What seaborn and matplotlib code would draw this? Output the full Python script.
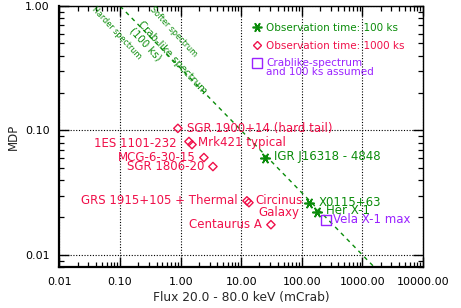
import matplotlib
matplotlib.use("Agg")
import matplotlib.pyplot as plt
from matplotlib.lines import Line2D
from matplotlib.ticker import LogLocator, FuncFormatter, NullFormatter
import pandas as pd
import seaborn as sns

# sources observed for 1000 ks (red diamonds)
long_names = ["SGR 1900+14 (hard tail)", "1ES 1101-232", "Mrk421 typical", "MCG-6-30-15",
              "SGR 1806-20", "GRS 1915+105 + Thermal", "Circinus\nGalaxy", "Centaurus A"]
long_flux = [0.90, 1.37, 1.54, 2.42, 3.41, 12.4, 13.4, 30.9]
long_mdp = [0.104, 0.0815, 0.077, 0.0606, 0.0513, 0.0272, 0.0263, 0.0175]

# sources observed for 100 ks (green asterisks)
short_names = ["IGR J16318 - 4848", "X0115+63", "Her X-1"]
short_flux = [24.6, 131, 178]
short_mdp = [0.0606, 0.0263, 0.0222]

# crab-like spectrum, 100 ks (purple square)
crab_names = ["Vela X-1 max"]
crab_src_flux = [250]
crab_src_mdp = [0.0191]

# crab-like spectrum line (100 ks)
crab_flux = [0.1, 2000]
crab_mdp = [1.0, 0.00707]

x_ticks = [0.01, 0.1, 1, 10, 100, 1000, 10000]
y_ticks = [0.01, 0.1, 1.0]

RED = "#f0104a"
GREEN = "#0a8c0a"
PURPLE = "#9a22ff"

sns.set_style("ticks")
plt.rcParams["font.family"] = ["DejaVu Sans"]

fig, ax = plt.subplots(figsize=(4.61, 3.08), dpi=100)
fig.subplots_adjust(left=0.129, right=0.9176, top=0.9805, bottom=0.1331)

sns.lineplot(x=crab_flux, y=crab_mdp, color=GREEN, linewidth=1.0,
             linestyle=(0, (3, 3)), ax=ax)

df_long = pd.DataFrame({"flux": long_flux, "mdp": long_mdp, "name": long_names})
df_short = pd.DataFrame({"flux": short_flux, "mdp": short_mdp, "name": short_names})
df_crab = pd.DataFrame({"flux": crab_src_flux, "mdp": crab_src_mdp, "name": crab_names})

sns.scatterplot(data=df_long, x="flux", y="mdp", marker="D", s=18,
                facecolor="none", edgecolor=RED, linewidth=1.0, ax=ax, zorder=5)
sns.scatterplot(data=df_short, x="flux", y="mdp", marker=(6, 2, 90), s=45,
                color=GREEN, edgecolor=GREEN, linewidth=1.2, ax=ax, zorder=5)
sns.scatterplot(data=df_crab, x="flux", y="mdp", marker="s", s=45,
                facecolor="none", edgecolor=PURPLE, linewidth=1.0, ax=ax, zorder=5)

ax.set_xscale("log")
ax.set_yscale("log")

fs = 8.5
# label offsets in pixels (dx, dy, ha)
long_off = [(9, 0, "left"), (-12, -2, "right"), (6, 2, "left"), (-8, 0, "right"),
            (-9, 0, "right"), (-9, 0, "right"), (30, -4, "center"), (-9, 0, "right")]
for (n, xv, yv), (dx, dy, ha) in zip(zip(long_names, long_flux, long_mdp), long_off):
    ax.annotate(n, (xv, yv), xytext=(dx, dy), textcoords="offset pixels",
                ha=ha, va="center", color=RED, fontsize=fs,
                multialignment="center", linespacing=0.9)

short_off = [(9, 1), (10, 0), (9, 1)]
for (n, xv, yv), (dx, dy) in zip(zip(short_names, short_flux, short_mdp), short_off):
    ax.annotate(n, (xv, yv), xytext=(dx, dy), textcoords="offset pixels",
                ha="left", va="center", color=GREEN, fontsize=fs)

for n, xv, yv in zip(crab_names, crab_src_flux, crab_src_mdp):
    ax.annotate(n, (xv, yv), xytext=(7, 0), textcoords="offset pixels",
                ha="left", va="center", color=PURPLE, fontsize=fs)

# spectrum annotations along the crab line
rot = -47
ax.text(0.089, 0.607, "Harder spectrum", rotation=rot, rotation_mode="anchor",
        ha="center", va="center", color=GREEN, fontsize=5.8)
ax.text(0.775, 0.618, "Softer spectrum", rotation=rot, rotation_mode="anchor",
        ha="center", va="center", color=GREEN, fontsize=5.8)
ax.text(0.72, 0.382, "Crab-like spectrum", rotation=rot, rotation_mode="anchor",
        ha="center", va="center", color=GREEN, fontsize=7.3)
ax.text(0.267, 0.495, "(100 ks)", rotation=rot, rotation_mode="anchor",
        ha="center", va="center", color=GREEN, fontsize=7.3)

# legend
lfs = 7.5
handles = [
    Line2D([], [], ls="none", marker=(6, 2, 90), ms=7, color=GREEN, mew=1.2),
    Line2D([], [], ls="none", marker="D", ms=4.5, mfc="none", mec=RED, mew=1.0),
    Line2D([], [], ls="none", marker="s", ms=7, mfc="none", mec=PURPLE, mew=1.0),
]
labels = ["Observation time: 100 ks", "Observation time: 1000 ks", "Crablike-spectrum"]
leg = ax.legend(handles, labels, loc="upper left", bbox_to_anchor=(0.52, 0.952),
                frameon=False, fontsize=lfs, handlelength=0.8, handletextpad=0.5,
                labelspacing=0.75, borderaxespad=0, labelcolor=[GREEN, RED, PURPLE])
ax.annotate("and 100 ks assumed", xy=(0, 0), xycoords=leg.get_texts()[2],
            xytext=(0, 1), textcoords="offset pixels", ha="left", va="top",
            color=PURPLE, fontsize=lfs, zorder=10)

# ticks and grid
for axis in (ax.xaxis, ax.yaxis):
    axis.set_major_locator(LogLocator(base=10, numticks=20))
    axis.set_minor_locator(LogLocator(base=10, subs=range(2, 10), numticks=20))
    axis.set_minor_formatter(NullFormatter())
    axis.set_major_formatter(FuncFormatter(lambda v, p: f"{v:.2f}"))
ax.set_xticks(x_ticks)
ax.set_yticks(y_ticks)
ax.set_xlim(0.01, 10000)
ax.set_ylim(0.008, 1.0)
ax.tick_params(which="both", direction="in", top=True, right=True, color="black",
               labelsize=8, labelcolor="black")
ax.tick_params(which="major", length=7, width=1.0, pad=7)
ax.tick_params(which="minor", length=3.5, width=0.9)
ax.grid(True, which="major", ls=(0, (1, 1.5)), color="black", lw=0.8)

for sp in ax.spines.values():
    sp.set_color("black")
    sp.set_linewidth(1.0)
ax.spines["left"].set_linewidth(1.6)
ax.spines["bottom"].set_linewidth(1.6)

ax.set_xlabel("Flux 20.0 - 80.0 keV (mCrab)", fontsize=8.8, labelpad=3)
ax.yaxis.set_label_coords(-0.11, 0.48)
ax.set_ylabel("MDP", fontsize=8.5)

fig.savefig("out.png", dpi=100)
